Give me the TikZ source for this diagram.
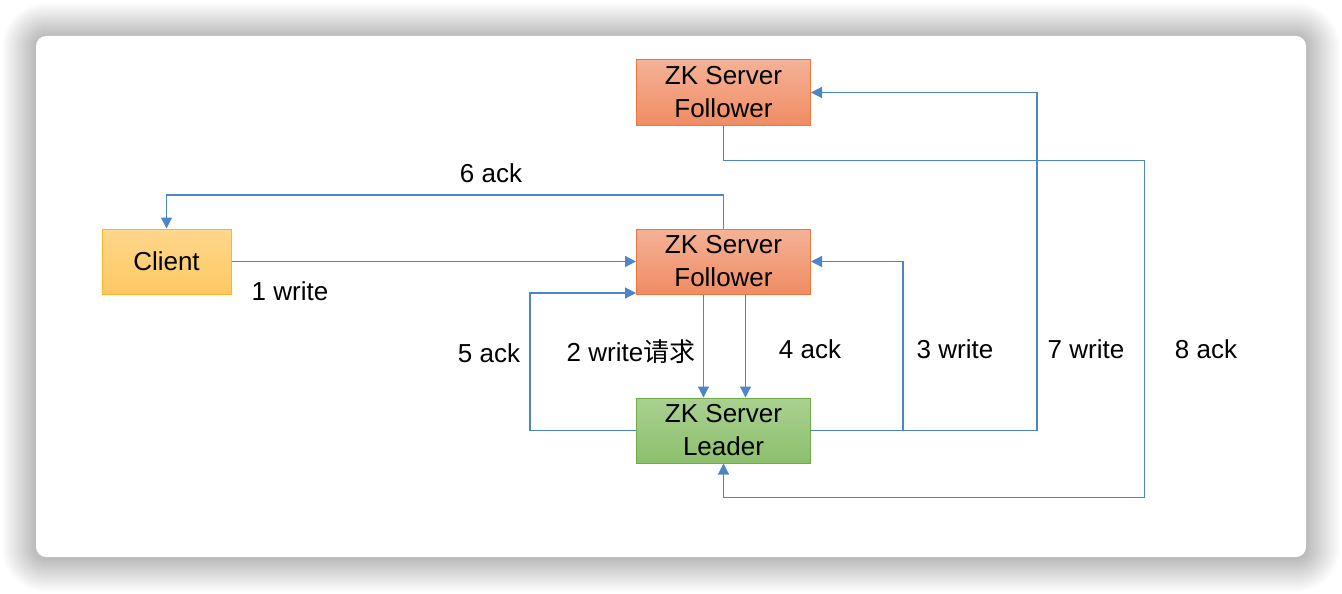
\documentclass[tikz,border=0pt]{standalone}
\usepackage{fontspec}
\setmainfont{Liberation Sans}
\newfontfamily\cjk{Noto Sans CJK SC}
\usetikzlibrary{arrows.meta,calc}
\definecolor{conn}{RGB}{74,134,200}
\definecolor{orTop}{RGB}{244,178,150}
\definecolor{orBot}{RGB}{240,140,100}
\definecolor{orLine}{RGB}{236,118,60}
\definecolor{yeTop}{RGB}{254,215,140}
\definecolor{yeBot}{RGB}{253,200,98}
\definecolor{yeLine}{RGB}{250,182,36}
\definecolor{grTop}{RGB}{170,208,145}
\definecolor{grBot}{RGB}{140,192,108}
\definecolor{grLine}{RGB}{110,172,70}
\tikzset{
  box/.style={minimum width=174pt, minimum height=65pt, inner sep=0pt, align=center,
    font=\fontsize{26}{33}\selectfont, line width=1pt},
  follower/.style={box, draw=orLine, top color=orTop, bottom color=orBot},
  clientbox/.style={box, minimum width=129pt, draw=yeLine, top color=yeTop, bottom color=yeBot},
  leaderbox/.style={box, draw=grLine, top color=grTop, bottom color=grBot},
  wire/.style={draw=conn, line width=1.2pt},
  arr/.style={wire, -{Triangle[length=11pt,width=11pt]}},
  lbl/.style={font=\fontsize{26}{33}\selectfont, inner sep=0pt}
}
\begin{document}
\begin{tikzpicture}[x=1pt,y=-1pt]
\useasboundingbox (0,0) rectangle (1342,594);
\fill[white] (0,0) rectangle (1342,594);
% shadow
\foreach \i in {1,...,34}{
  \fill[black, opacity=0.006, rounded corners={10+\i}] ({36-\i},{37-\i}) rectangle ({1306+\i},{558+\i});
}
\fill[white, rounded corners=10] (36,36) rectangle (1306,557);

% nodes
\node[follower] (top) at (723.5,92.5) {ZK Server\\Follower};
\node[clientbox] (client) at (166.5,261.5) {Client};
\node[follower] (mid) at (723.5,261.5) {ZK Server\\Follower};
\node[leaderbox] (leader) at (723.5,430.5) {ZK Server\\Leader};

% coordinates
\coordinate (c8a) at (1144.5,160.5);
\coordinate (c8b) at (1144.5,497.5);

% connectors
\draw[arr] (client.east) -- (mid.west);
\draw[arr] (mid.north) -- ++(0,-33.5) -| (client.north);
\draw[arr] ([xshift=-20pt]mid.south) -- ([xshift=-20pt]leader.north);
\draw[arr] ([xshift=22pt]mid.south) -- ([xshift=22pt]leader.north);
\draw[arr] (leader.west) -- ++(-106,0) |- ([yshift=1.5pt]mid.south west);
\draw[arr] (leader.east) -- ++(92,0) |- (mid.east);
\draw[arr] (leader.east) -- ++(226,0) |- (top.east);
\draw[arr] (top.south) |- (c8a) -- (c8b) -| (leader.south);

% labels
\node[lbl] (l6) at (491,173) {6 ack};
\node[lbl] (l1) at (290,291) {1 write};
\node[lbl] (l5) at (489,353) {5 ack};
\node[lbl] (l2) at (631,352) {2 write{\cjk 请求}};
\node[lbl] (l4) at (810,349) {4 ack};
\node[lbl] (l3) at (955,349) {3 write};
\node[lbl] (l7) at (1086,349) {7 write};
\node[lbl] (l8) at (1206,349) {8 ack};
\end{tikzpicture}
\end{document}
